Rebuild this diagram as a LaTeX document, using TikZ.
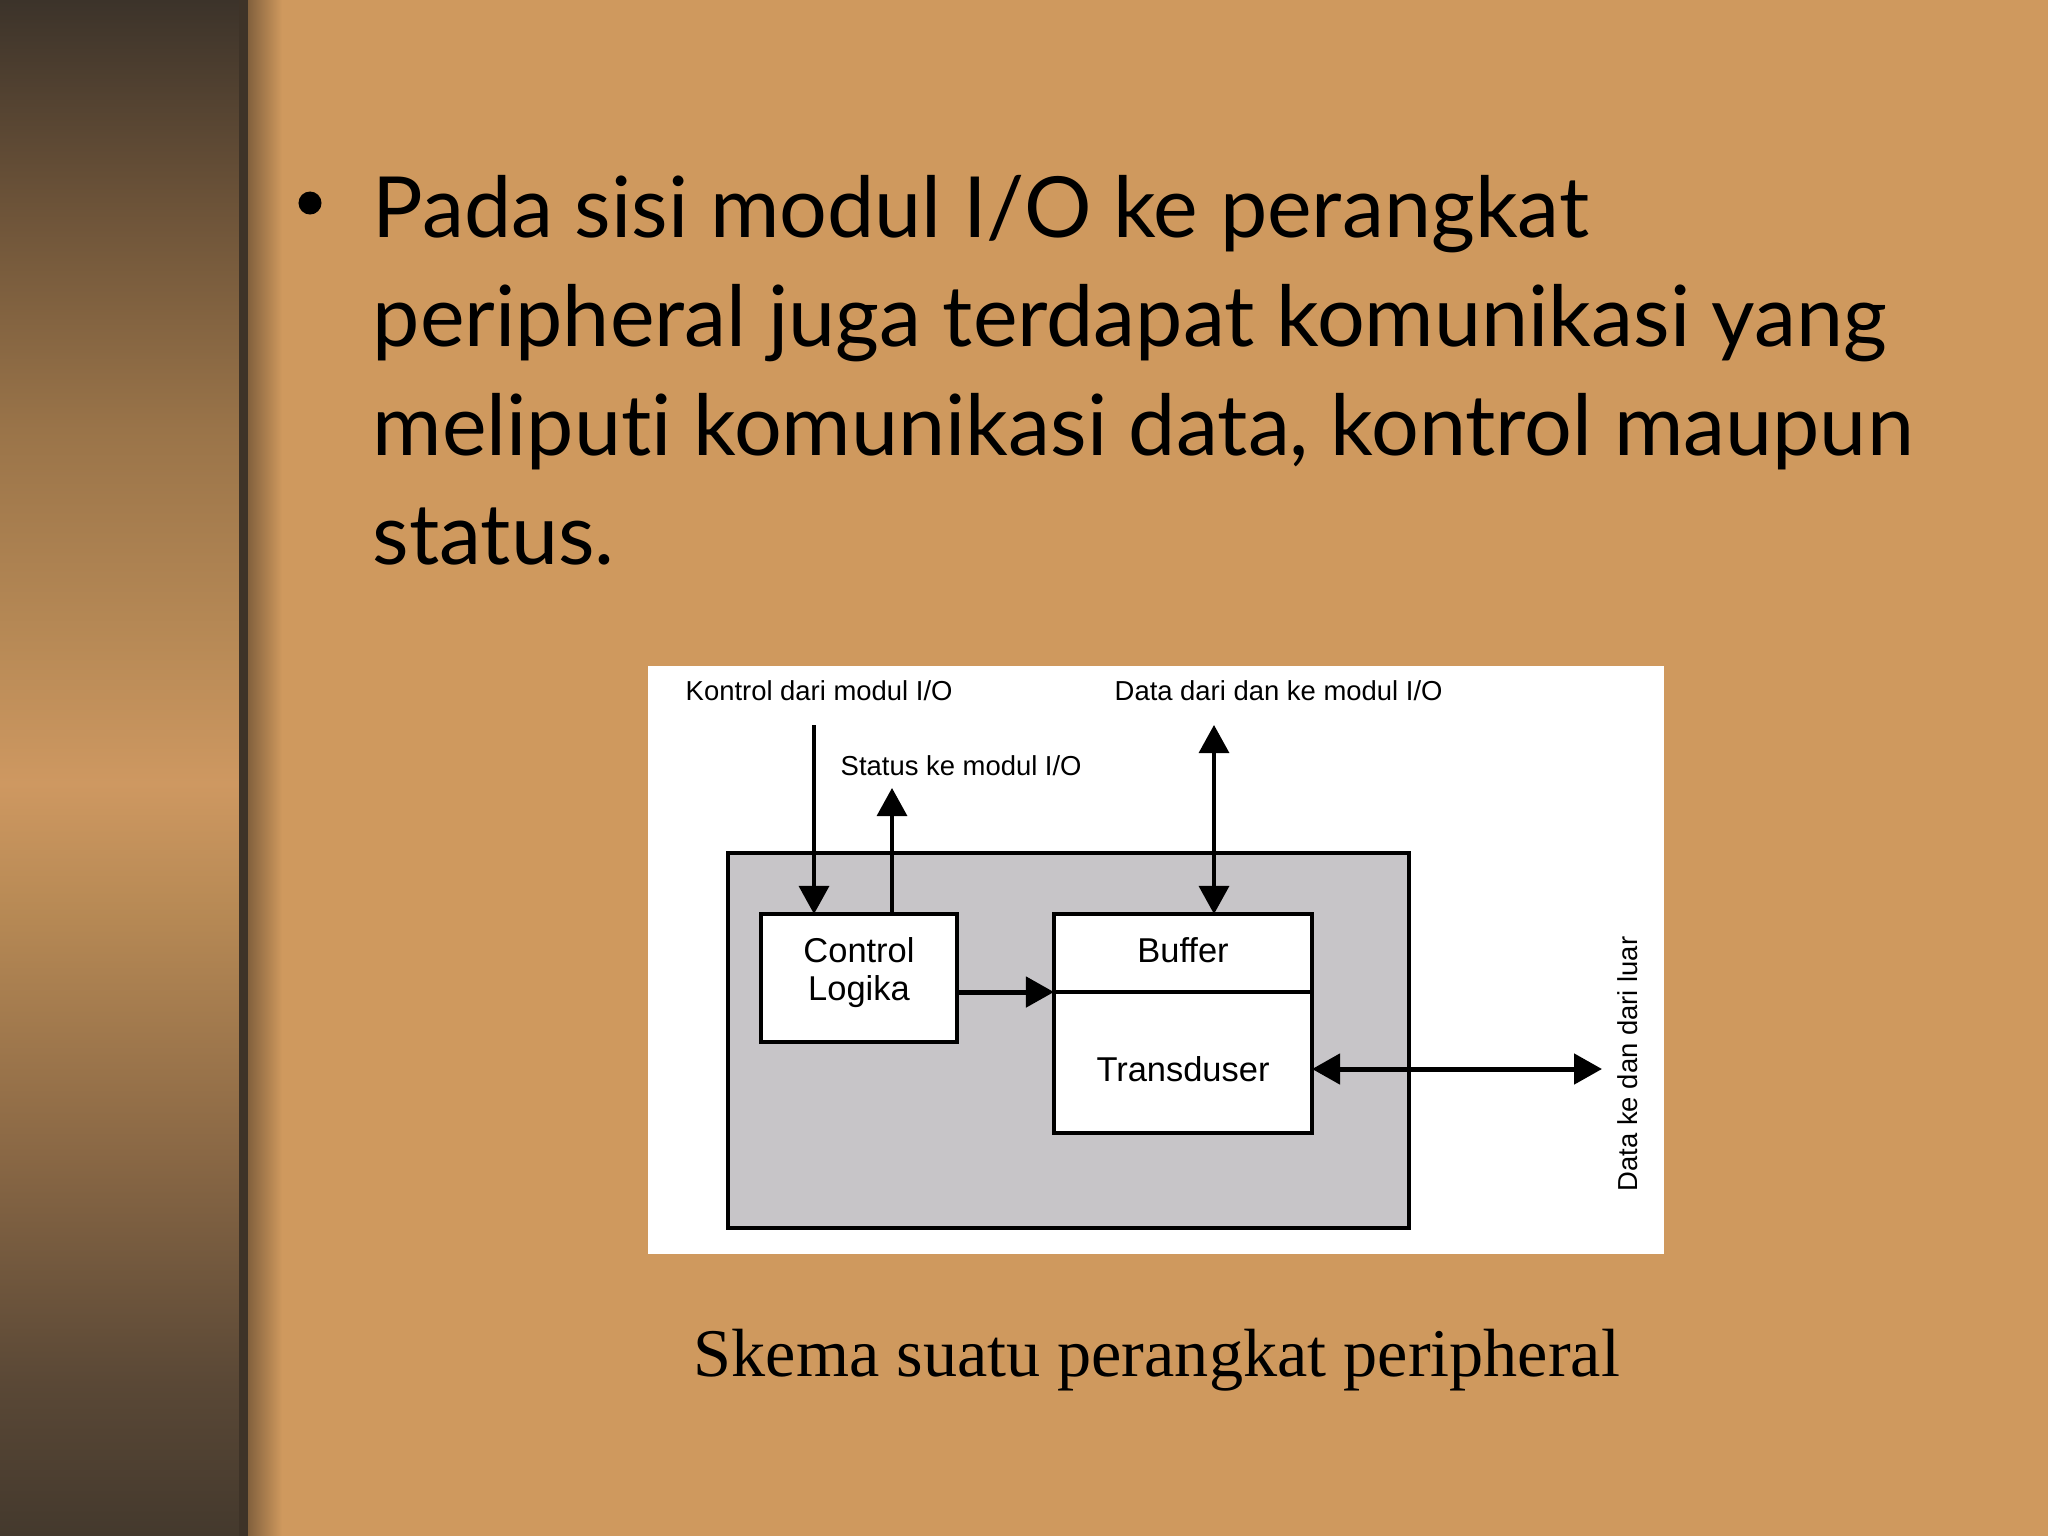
\documentclass[tikz,border=0pt]{standalone}
\usepackage{fontspec}
\setmainfont{Lato}[Ligatures={NoCommon}]
\newfontfamily\capfont{Liberation Serif}
\newfontfamily\diafont{Liberation Sans}
\usetikzlibrary{arrows.meta}
\definecolor{slidebg}{RGB}{207,153,94}
\definecolor{boxgray}{RGB}{199,197,200}
\definecolor{barline}{RGB}{62,51,40}
\definecolor{shadowdark}{RGB}{128,95,60}
\definecolor{bA}{RGB}{68,57,45}
\definecolor{bB}{RGB}{90,72,54}
\definecolor{bC}{RGB}{138,104,69}
\definecolor{bD}{RGB}{184,138,85}
\definecolor{bE}{RGB}{206,152,97}
\definecolor{bF}{RGB}{184,138,86}
\definecolor{bG}{RGB}{154,116,73}
\definecolor{bH}{RGB}{107,82,56}
\definecolor{bI}{RGB}{60,51,42}
\pgfdeclareverticalshading{barshade}{100bp}{%
  color(0bp)=(bA); color(25bp)=(bA); color(30bp)=(bB); color(37.5bp)=(bC);
  color(45.5bp)=(bD); color(49.5bp)=(bE); color(54bp)=(bF); color(61bp)=(bG);
  color(68.5bp)=(bH); color(75bp)=(bI); color(100bp)=(bI)}
\tikzset{
  boxstyle/.style={draw=black, line width=0.04cm, inner sep=0pt, outer sep=0pt, fill=white},
  lbl/.style={font=\diafont\fontsize{7.8pt}{9pt}\selectfont, inner sep=0pt},
  boxtext/.style={font=\diafont\fontsize{9.8pt}{11pt}\selectfont, inner sep=0pt},
  bodytext/.style={font=\fontsize{24pt}{28pt}\selectfont, inner sep=0pt, anchor=base west},
  thinarrow/.style={line width=0.032cm},
  thickarrow/.style={line width=0.05cm}
}
\begin{document}
\begin{tikzpicture}[x=0.01cm, y=-0.01cm,
  >={Triangle[length=0.28cm, width=0.30cm]}]
\useasboundingbox (0,0) rectangle (2048,1536);
% background
\fill[slidebg] (0,0) rectangle (2048,1536);
\shade[shading=barshade] (0,0) rectangle (240,1536);
\shade[left color=shadowdark, right color=slidebg] (247,0) rectangle (282,1536);
\fill[barline] (239,0) rectangle (248,1536);

% bullet text
\node[circle, fill=black, minimum size=0.23cm, inner sep=0pt] (bullet) at (310,203) {};
\node[bodytext] (line1) at (372,237) {Pada sisi modul I/O ke perangkat};
\node[bodytext] (line2) at (372,346) {peripheral juga terdapat komunikasi yang};
\node[bodytext] (line3) at (372,455) {meliputi komunikasi data, kontrol maupun};
\node[bodytext] (line4) at (372,564) {status.};

% diagram panel
\fill[white] (648,666) rectangle (1664,1254);
\node[draw=black, line width=0.04cm, fill=boxgray, inner sep=0pt, outer sep=0pt,
      minimum width=6.81cm, minimum height=3.75cm] (device) at (1068.5,1040.5) {};
\node[boxstyle, minimum width=1.96cm, minimum height=1.28cm] (ctrl) at (859,978) {};
\node[boxstyle, minimum width=2.58cm, minimum height=0.78cm] (buffer) at (1183,953) {};
\node[boxstyle, minimum width=2.58cm, minimum height=1.41cm] (transd) at (1183,1062.5) {};

\node[boxtext, anchor=base] (ctrlA) at (859,962) {Control};
\node[boxtext, anchor=base] (ctrlB) at (859,1000) {Logika};
\node[boxtext, anchor=base] (bufText) at (1183,962) {Buffer};
\node[boxtext, anchor=base] (trText) at (1183,1081) {Transduser};

\node[lbl, anchor=base west] (kontrolLbl) at (685,700) {Kontrol dari modul I/O};
\node[lbl, anchor=base west] (statusLbl) at (840,775) {Status ke modul I/O};
\node[lbl, anchor=base west] (dataLbl) at (1114,700) {Data dari dan ke modul I/O};
\node[lbl, anchor=base west, rotate=90] (luarLbl) at (1637,1192) {Data ke dan dari luar};

\coordinate (kontrolStart) at (814,725);
\coordinate (statusEnd) at (892,788);
\coordinate (dataEnd) at (1214,725);
\coordinate (outEnd) at (1602,1069);

\draw[thinarrow, ->] (kontrolStart) -- (kontrolStart |- ctrl.north);
\draw[thinarrow, ->] (statusEnd |- ctrl.north) -- (statusEnd);
\draw[thinarrow, <->] (dataEnd) -- (dataEnd |- buffer.north);
\draw[thickarrow, ->] (ctrl.east |- buffer.south west) -- (buffer.south west);
\draw[thickarrow, <->] (transd.east |- outEnd) -- (outEnd);

% caption
\node[font=\capfont\fontsize{19.4pt}{23pt}\selectfont, inner sep=0pt, anchor=base west] (caption) at (693,1376) {Skema suatu perangkat peripheral};
\end{tikzpicture}
\end{document}
